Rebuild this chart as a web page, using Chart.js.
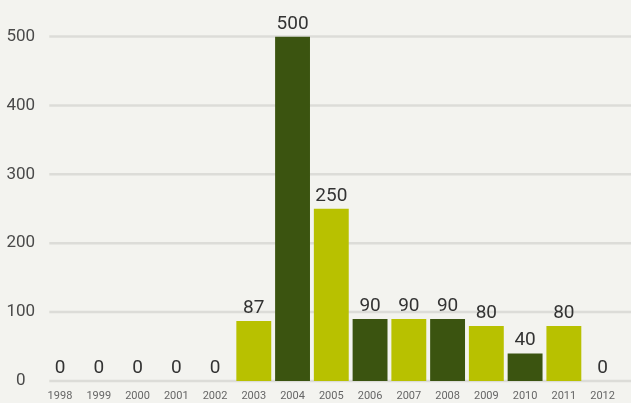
<!DOCTYPE html>
<html>
<head>
<meta charset="utf-8">
<script src="https://cdn.jsdelivr.net/npm/chart.js@4/dist/chart.umd.min.js"></script>
<style>
  html, body { margin: 0; padding: 0; background: #f3f3ef; }
  #wrap { width: 631px; height: 403px; position: relative; }
</style>
</head>
<body>
<div id="wrap"><canvas id="c" width="631" height="403"></canvas></div>
<script>
const years = ["1998","1999","2000","2001","2002","2003","2004","2005","2006","2007","2008","2009","2010","2011","2012"];
const values = [0,0,0,0,0,87,500,250,90,90,90,80,40,80,0];
const yTicks = [0,100,200,300,400,500];
const darkGreen = "#3b5410";
const lightGreen = "#b8c100";
const barColors = years.map(y => (parseInt(y) % 2 === 0 ? darkGreen : lightGreen));

const gridPlugin = {
  id: 'offsetGrid',
  beforeDatasetsDraw(chart) {
    const {ctx, chartArea, scales} = chart;
    const y = scales.y;
    ctx.save();
    ctx.strokeStyle = '#dcdcd8';
    ctx.lineWidth = 2.5;
    yTicks.forEach(t => {
      const py = y.getPixelForValue(t);
      ctx.beginPath();
      ctx.moveTo(chartArea.left + 8.7, py);
      ctx.lineTo(chart.width, py);
      ctx.stroke();
    });
    ctx.restore();
  }
};

const labelPlugin = {
  id: 'valueLabels',
  afterDatasetsDraw(chart) {
    const {ctx} = chart;
    const meta = chart.getDatasetMeta(0);
    ctx.save();
    ctx.font = '400 19px Roboto';
    ctx.fillStyle = '#333333';
    ctx.textAlign = 'center';
    ctx.textBaseline = 'alphabetic';
    meta.data.forEach((bar, i) => {
      ctx.fillText(String(values[i]), bar.x, bar.y - 8);
    });
    ctx.restore();
  }
};

new Chart(document.getElementById('c'), {
  type: 'bar',
  data: {
    labels: years,
    datasets: [{
      data: values,
      backgroundColor: barColors,
      borderWidth: 0,
      barPercentage: 0.9,
      categoryPercentage: 1.0
    }]
  },
  options: {
    responsive: false,
    animation: false,
    layout: { padding: { left: 0, right: 9, top: 36.5, bottom: 0 } },
    plugins: { legend: { display: false }, tooltip: { enabled: false } },
    scales: {
      x: {
        grid: { display: false, drawTicks: false },
        border: { display: false },
        ticks: { color: '#666666', font: { family: 'Roboto', size: 11 }, padding: 9, maxRotation: 0, autoSkip: false },
        afterFit(scale) { scale.height = 22; }
      },
      y: {
        min: 0, max: 500,
        grid: { display: false, drawTicks: false },
        border: { display: false },
        afterBuildTicks(scale) { scale.ticks = yTicks.map(v => ({ value: v })); },
        ticks: { color: '#4a4a4a', font: { family: 'Roboto', size: 17 }, padding: 5.5, crossAlign: 'center' },
        afterFit(scale) { scale.width = 40.6; }
      }
    }
  },
  plugins: [gridPlugin, labelPlugin]
});
</script>
</body>
</html>
